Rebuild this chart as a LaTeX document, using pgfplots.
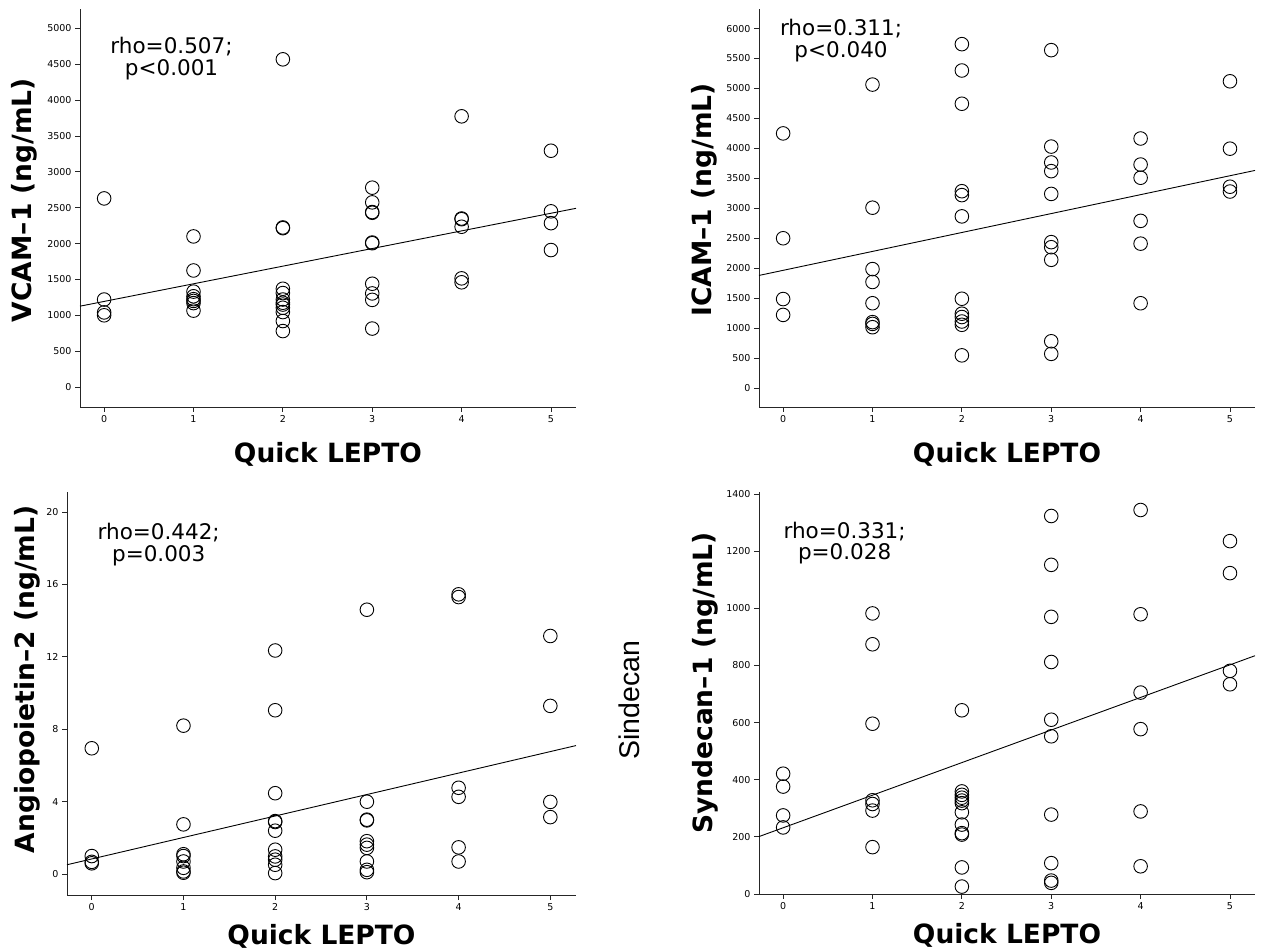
\documentclass[border=0pt]{standalone}
\usepackage{fontspec}
\setmainfont{DejaVu Sans}
\newfontfamily\helvfont{Liberation Sans}
\usepackage{pgfplots}
\pgfplotsset{compat=1.18}

\tikzset{
  lab/.style={font=\fontsize{26.5}{30}\selectfont\bfseries},
  stat/.style={font=\fontsize{21.5}{24}\selectfont, anchor=center, inner sep=0pt},
}
\pgfplotsset{
  spss/.style={
    scale only axis,
    anchor=south west,
    axis lines=left,
    axis line style={-, black!85, line width=0.9pt},
    xmin=-0.27, xmax=5.28,
    xtick={0,1,2,3,4,5},
    tick align=outside,
    major tick length=5pt,
    tick style={black!85, line width=0.8pt},
    ticklabel style={font=\fontsize{9.5}{10}\selectfont},
    /pgf/number format/assume math mode=true,
    /pgf/number format/1000 sep={},
    clip=false,
    xlabel={Quick LEPTO},
  },
  pts/.style={only marks, mark=o, mark size=6.8pt,
    mark options={line width=0.9pt, draw=black}},
  fitline/.style={no marks, black, line width=0.9pt},
}

\begin{document}
\begin{tikzpicture}
\useasboundingbox (0pt,0pt) rectangle (1262pt,951pt);

% ---------------- VCAM-1 ----------------
\begin{axis}[spss, at={(80pt,544pt)}, width=496pt, height=398pt,
  ymin=-279, ymax=5272, ytick={0,500,...,5000},
  every axis x label/.style={at={(axis description cs:0.5,0)}, anchor=center, yshift=-47pt, lab},
  every axis y label/.style={at={(axis description cs:0,0.52)}, anchor=center, xshift=-56pt, rotate=90, lab},
  ylabel={VCAM–1 (ng/mL)}]
\addplot[pts] coordinates {
 (0,2630) (0,1220) (0,1040) (0,1000)
 (1,2100) (1,1625) (1,1330) (1,1265) (1,1225) (1,1200) (1,1170) (1,1065)
 (2,4570) (2,2225) (2,2215) (2,1370) (2,1310) (2,1220) (2,1175) (2,1150) (2,1105) (2,1045) (2,920) (2,780)
 (3,2780) (3,2575) (3,2440) (3,2430) (3,2015) (3,2005) (3,1440) (3,1305) (3,1215) (3,815)
 (4,3775) (4,2350) (4,2340) (4,2235) (4,1515) (4,1460)
 (5,3295) (5,2450) (5,2285) (5,1910)
};
\addplot[fitline] coordinates {(-0.27,1127) (5.28,2492)};
\node[stat] at (axis cs:0.754,4745) {rho=0.507;};
\node[stat] at (axis cs:0.754,4421) {p<0.001};
\end{axis}

% ---------------- ICAM-1 ----------------
\begin{axis}[spss, at={(759pt,544pt)}, width=496pt, height=398pt,
  ymin=-317, ymax=6327, ytick={0,500,...,6000},
  every axis x label/.style={at={(axis description cs:0.5,0)}, anchor=center, yshift=-47pt, lab},
  every axis y label/.style={at={(axis description cs:0,0.52)}, anchor=center, xshift=-55pt, rotate=90, lab},
  ylabel={ICAM–1 (ng/mL)}]
\addplot[pts] coordinates {
 (0,4250) (0,2500) (0,1485) (0,1220)
 (1,5065) (1,3010) (1,1985) (1,1770) (1,1415) (1,1100) (1,1070) (1,1015)
 (2,5740) (2,5300) (2,4745) (2,3285) (2,3220) (2,2865) (2,1490) (2,1240) (2,1185) (2,1110) (2,1055) (2,545)
 (3,5640) (3,4030) (3,3765) (3,3620) (3,3240) (3,2435) (3,2350) (3,2140) (3,780) (3,570)
 (4,4165) (4,3730) (4,3510) (4,2790) (4,2410) (4,1415)
 (5,5120) (5,3995) (5,3360) (5,3280)
};
\addplot[fitline] coordinates {(-0.27,1879) (5.28,3632)};
\node[stat] at (axis cs:0.648,6000) {rho=0.311;};
\node[stat] at (axis cs:0.648,5611) {p<0.040};
\end{axis}

% ---------------- Angiopoietin-2 ----------------
\begin{axis}[spss, at={(67pt,56pt)}, width=509pt, height=403pt,
  ymin=-1.15, ymax=21.1, ytick={0,4,...,20},
  every axis x label/.style={at={(axis description cs:0.5,0)}, anchor=center, yshift=-41pt, lab},
  every axis y label/.style={at={(axis description cs:0,0.535)}, anchor=center, xshift=-40pt, rotate=90, lab},
  ylabel={Angiopoietin–2 (ng/mL)}]
\addplot[pts] coordinates {
 (0,6.95) (0,1.0) (0,0.68) (0,0.6)
 (1,8.2) (1,2.75) (1,1.1) (1,1.0) (1,0.7) (1,0.35) (1,0.15) (1,0.08)
 (2,12.35) (2,9.05) (2,4.47) (2,2.93) (2,2.88) (2,2.4) (2,1.35) (2,0.98) (2,0.8) (2,0.52) (2,0.06)
 (3,14.6) (3,4.0) (3,3.01) (3,2.97) (3,1.82) (3,1.63) (3,1.45) (3,0.7) (3,0.24) (3,0.11)
 (4,15.45) (4,15.3) (4,4.77) (4,4.27) (4,1.48) (4,0.7)
 (5,13.15) (5,9.29) (5,3.99) (5,3.15)
};
\addplot[fitline] coordinates {(-0.27,0.52) (5.28,7.10)};
\node[stat] at (axis cs:0.73,18.84) {rho=0.442;};
\node[stat] at (axis cs:0.73,17.57) {p=0.003};
\end{axis}

% ---------------- Syndecan-1 ----------------
\begin{axis}[spss, at={(759pt,57pt)}, width=496pt, height=402pt,
  ymin=0, ymax=1407, ytick={0,200,...,1400},
  every axis x label/.style={at={(axis description cs:0.5,0)}, anchor=center, yshift=-41pt, lab},
  every axis y label/.style={at={(axis description cs:0,0.525)}, anchor=center, xshift=-54pt, rotate=90, lab},
  ylabel={Syndecan–1 (ng/mL)}]
\addplot[pts] coordinates {
 (0,421) (0,376) (0,275) (0,233)
 (1,982) (1,874) (1,596) (1,328) (1,315) (1,292) (1,164)
 (2,643) (2,359) (2,347) (2,337) (2,327) (2,318) (2,286) (2,243) (2,213) (2,208) (2,93) (2,26)
 (3,1323) (3,1152) (3,970) (3,812) (3,610) (3,552) (3,278) (3,108) (3,47) (3,39)
 (4,1344) (4,979) (4,705) (4,577) (4,289) (4,97)
 (5,1235) (5,1123) (5,781) (5,734)
};
\addplot[fitline] coordinates {(-0.27,201) (5.28,834)};
\node[stat] at (axis cs:0.688,1268) {rho=0.331;};
\node[stat] at (axis cs:0.688,1192) {p=0.028};
\end{axis}

\node[rotate=90, font=\helvfont\fontsize{28.5}{32}\selectfont, anchor=center] at (629pt,251pt) {Sindecan};
\end{tikzpicture}
\end{document}
